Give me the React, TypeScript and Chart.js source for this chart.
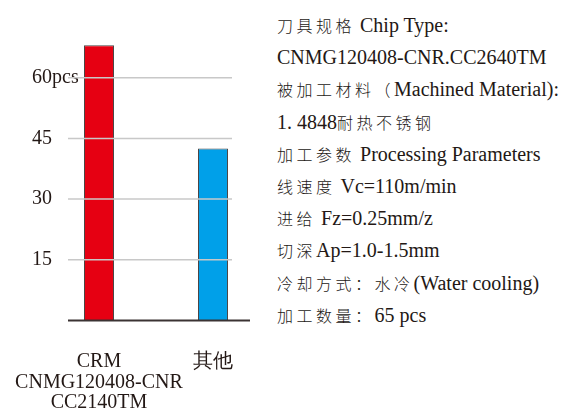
import React, { useEffect, useRef } from 'react';
import { Chart, registerables } from 'chart.js';

Chart.register(...registerables);

const categories: (string | string[])[] = [["CRM", "CNMG120408-CNR", "CC2140TM"], "其他"];
const values = [68, 42.5];
const barColors = ["#e60012", "#00a0e9"];
const yTicks = [15, 30, 45, 60];
const yUnit = "pcs";
const yMax = 75;

const infoLines = [
  "刀具规格 Chip Type:",
  "CNMG120408-CNR.CC2640TM",
  "被加工材料（Machined Material):",
  "1. 4848耐热不锈钢",
  "加工参数 Processing Parameters",
  "线速度 Vc=110m/min",
  "进给 Fz=0.25mm/z",
  "切深Ap=1.0-1.5mm",
  "冷却方式：水冷(Water cooling)",
  "加工数量：65 pcs",
];

const TEXT = '#231815';
const SERIF = '"Liberation Serif", "Times New Roman", serif';
const CJK = '"Noto Sans CJK SC", sans-serif';

const decorPlugin = {
  id: 'decor',
  afterDatasetsDraw(chart: any) {
    const { ctx, chartArea, scales } = chart;
    const y = scales.y;
    const left = chartArea.left + 26;
    ctx.save();
    ctx.strokeStyle = '#c8c8c8';
    ctx.lineWidth = 1.5;
    for (const v of yTicks) {
      const py = y.getPixelForValue(v);
      ctx.beginPath();
      ctx.moveTo(left, py);
      ctx.lineTo(chartArea.left + 190, py);
      ctx.stroke();
    }
    ctx.strokeStyle = '#3b3333';
    ctx.lineWidth = 2;
    const by = y.getPixelForValue(0);
    ctx.beginPath();
    ctx.moveTo(left, by);
    ctx.lineTo(chartArea.left + 208, by);
    ctx.stroke();
    ctx.restore();
  },
};

function splitRuns(s: string) {
  const runs: { t: string; cjk: boolean }[] = [];
  const re = /[\u3000-\u9fff\uff00-\uffef]/;
  for (const ch of s) {
    const c = re.test(ch);
    const last = runs[runs.length - 1];
    if (last && last.cjk === c) last.t += ch;
    else runs.push({ t: ch, cjk: c });
  }
  return runs;
}

export default function App() {
  const ref = useRef<HTMLCanvasElement>(null);

  useEffect(() => {
    if (!ref.current) return;
    const chart = new Chart(ref.current, {
      type: 'bar',
      data: {
        labels: categories as any,
        datasets: [
          {
            data: values,
            backgroundColor: barColors,
            borderColor: '#4a4444',
            borderWidth: 1,
            borderSkipped: 'bottom',
            barPercentage: 0.263,
            categoryPercentage: 1,
          },
        ],
      },
      options: {
        responsive: false,
        animation: false,
        layout: { padding: { left: 32, right: 0, top: 17, bottom: 0 } },
        plugins: { legend: { display: false }, tooltip: { enabled: false } },
        scales: {
          x: {
            grid: { display: false },
            border: { display: false },
            afterFit: (s: any) => {
              s.paddingLeft = 0;
              s.paddingRight = 0;
              s.height = 89.5;
            },
            ticks: {
              autoSkip: false,
              maxRotation: 0,
              minRotation: 0,
              padding: 23,
              color: TEXT,
              font: { family: SERIF, size: 20, lineHeight: 1.025 },
            },
          },
          y: {
            min: 0,
            max: yMax,
            grid: { display: false },
            border: { display: false },
            afterFit: (s: any) => {
              s.width = 10;
              s.paddingTop = 0;
              s.paddingBottom = 0;
            },
            ticks: {
              stepSize: 15,
              mirror: true,
              crossAlign: 'near',
              padding: -10,
              color: TEXT,
              font: { family: SERIF, size: 20 },
              callback: (v: any) =>
                yTicks.includes(v) ? (v === Math.max(...yTicks) ? v + yUnit : String(v)) : null,
            },
          },
        },
      },
      plugins: [decorPlugin],
    } as any);
    return () => chart.destroy();
  }, []);

  return (
    <div
      style={{
        position: 'fixed',
        left: 0,
        top: 0,
        width: 567,
        height: 409,
        overflow: 'hidden',
        background: '#fff',
      }}
    >
      <canvas
        ref={ref}
        width={270}
        height={410}
        style={{ position: 'absolute', left: 0, top: 0, display: 'block' }}
      />
      <div
        style={{
          position: 'absolute',
          left: 277,
          top: 9,
          fontFamily: SERIF,
          fontSize: 20,
          lineHeight: '32.2px',
          color: TEXT,
          whiteSpace: 'nowrap',
        }}
      >
        {infoLines.map((line, i) => (
          <div key={i}>
            {splitRuns(line).map((r, j) =>
              r.cjk ? (
                <span
                  key={j}
                  style={{ fontFamily: CJK, fontSize: 16, letterSpacing: '3.5px', fontWeight: 300 }}
                >
                  {r.t}
                </span>
              ) : (
                <span key={j}>{r.t}</span>
              )
            )}
          </div>
        ))}
      </div>
    </div>
  );
}
